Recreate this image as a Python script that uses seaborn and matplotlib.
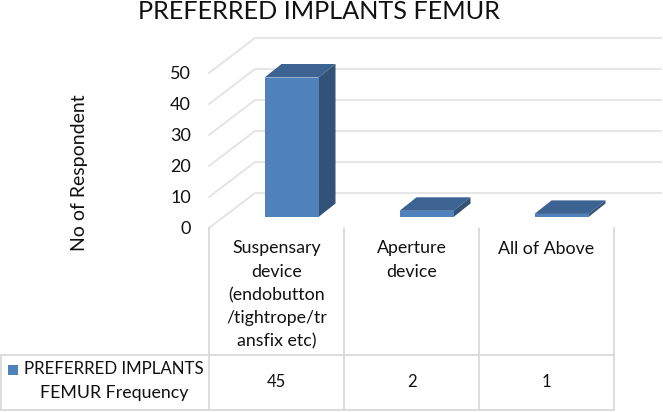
import pandas as pd
import matplotlib.pyplot as plt
import seaborn as sns
from matplotlib.patches import Polygon, Rectangle
from matplotlib.transforms import ScaledTranslation

# Chart values
categories = ["Suspensary\ndevice\n(endobutton\n/tightrope/tr\nansfix etc)", "Aperture\ndevice", "All of Above"]
frequency = [45, 2, 1]
y_ticks = [0, 10, 20, 30, 40, 50]
series_name = "PREFERRED IMPLANTS\nFEMUR Frequency"

W, H = 663, 412
FRONT = "#4f81bd"
TOP = "#3c6391"
SIDE = "#325277"
GRID = "#e6e6e6"
TABLE = "#d9d9d9"
TEXT = "#111111"

sns.set_theme(style="white")
plt.rcParams["font.family"] = ["Lato", "DejaVu Sans"]

df = pd.DataFrame({"category": categories, "frequency": frequency})

fig = plt.figure(figsize=(W / 100, H / 100), dpi=100)

# Front plane of the 3D box, pixel placement
ax = fig.add_axes([209 / W, (H - 228) / H, 405 / W, 155 / H])
sns.barplot(data=df, x="category", y="frequency", color=FRONT, saturation=1, width=0.4, linewidth=0, ax=ax, zorder=3)
ax.set_xlim(-0.5, 2.5)
ax.set_ylim(0, 50)
ax.set_xticks([])
ax.set_yticks([])
ax.set_xlabel("")
ax.set_ylabel("")
for s in ax.spines.values():
    s.set_visible(False)
ax.patch.set_alpha(0)

# Pixel overlay for the table and the text
ov = fig.add_axes([0, 0, 1, 1], zorder=-1)
ov.set_xlim(0, W)
ov.set_ylim(H, 0)
ov.axis("off")


def to_px(x, v):
    px, py = ax.transData.transform((x, v))
    return px, H - py


# Floor/wall gridlines
for v in y_ticks:
    x0, y0 = to_px(-0.5, v)
    ov.plot([x0, x0 + 46, 661], [y0, y0 - 35, y0 - 35], color=GRID, lw=1.5, zorder=1)
    ov.text(191, y0 + 1, str(v), ha="right", va="center", fontsize=13, color=TEXT)

# Bars sit part way into the depth, extra faces added from the bar patches
bar_dx, bar_dy = 15, 11
for bar in ax.patches:
    bar.set_transform(ax.transData + ScaledTranslation(bar_dx / 100, bar_dy / 100, fig.dpi_scale_trans))
    bar.set_clip_on(False)
    x0, y1 = to_px(bar.get_x(), bar.get_height())
    x1, y0 = to_px(bar.get_x() + bar.get_width(), 0)
    x0, x1 = x0 + bar_dx, x1 + bar_dx
    y0, y1 = y0 - bar_dy, y1 - bar_dy
    ov.add_patch(Polygon([(x0, y1), (x1, y1), (x1 + 17, y1 - 13.5), (x0 + 17, y1 - 13.5)], color=TOP, lw=0, zorder=2))
    ov.add_patch(Polygon([(x1, y1), (x1 + 17, y1 - 13.5), (x1 + 17, y0 - 13.5), (x1, y0)], color=SIDE, lw=0, zorder=2))

# Data table under the plot
edges = [to_px(i - 0.5, 0)[0] for i in range(len(categories) + 1)]
for e in edges:
    ov.plot([e, e], [228, 410], color=TABLE, lw=1.3, zorder=1)
ov.plot([1, 1], [355, 410], color=TABLE, lw=1.3, zorder=1)
ov.plot([1, edges[-1]], [355, 355], color=TABLE, lw=1.3, zorder=1)
ov.plot([1, edges[-1]], [410, 410], color=TABLE, lw=1.3, zorder=1)

for i, (c, f) in enumerate(zip(categories, frequency)):
    cx = (edges[i] + edges[i + 1]) / 2
    ov.text(cx, 240.5, c, ha="center", va="top", fontsize=12.8, linespacing=1.55, color=TEXT)
    ov.text(cx, 382, str(f), ha="center", va="center", fontsize=12, color=TEXT)

ov.add_patch(Rectangle((8, 365), 10, 10, color=FRONT, lw=0))
line1, line2 = series_name.split("\n")
ov.text(24, 369, line1, ha="left", va="center", fontsize=12.2, color=TEXT)
ov.text(114, 393, line2, ha="center", va="center", fontsize=12.8, color=TEXT)

ov.text(79, 173, "No of Respondent", rotation=90, ha="center", va="center", fontsize=14, color=TEXT)
ov.text(318.5, 11, "PREFERRED IMPLANTS FEMUR", ha="center", va="center", fontsize=18.2, color=TEXT)

fig.savefig("out.png", dpi=100)
